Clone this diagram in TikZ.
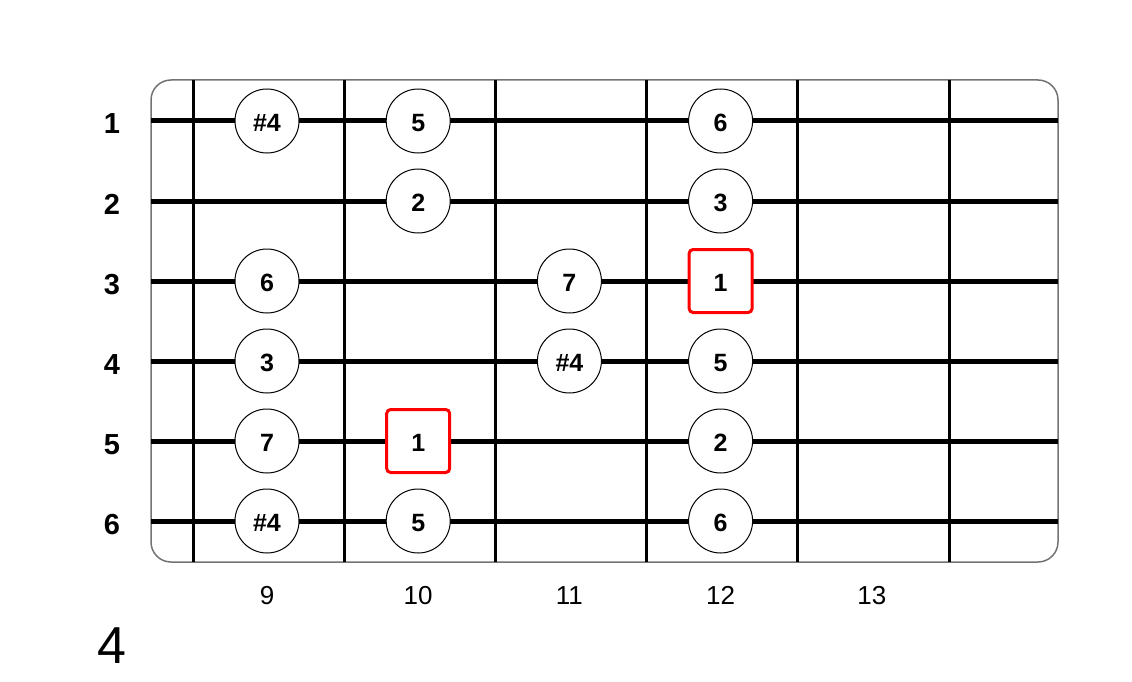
\documentclass[tikz,border=0pt]{standalone}
\usepackage{fontspec}
\setmainfont{Liberation Sans}
\usetikzlibrary{positioning}

\begin{document}
\begin{tikzpicture}[x=1pt, y=-1pt,
	every note/.style={circle, draw, line width=1pt, fill=white, minimum size=64pt, inner sep=0pt, text height=21pt, text depth=0pt, font=\fontsize{25}{25}\selectfont\bfseries},
	root note/.style={rectangle, draw=red, line width=3pt, rounded corners=4pt, fill=white, minimum size=63pt, inner sep=0pt, text height=21pt, text depth=0pt, font=\fontsize{25}{25}\selectfont\bfseries},
	string/.style={line width=5pt},
	fret/.style={line width=3pt},
	board/.style={draw=black!55, line width=1.5pt, rounded corners=20pt}]
		
		\useasboundingbox (0,0) rectangle (1132,682);
		
		\node [board, minimum width=907pt, minimum height=482pt, inner sep=0pt] (board) at (604.5,321) {};
		
		\foreach \k in {0,...,5}
		{
		\coordinate (fret-\k-top) at ({193+151.2*\k},80);
		\coordinate (fret-\k-bottom) at ({193+151.2*\k},562);
		\draw [fret] (fret-\k-top) -- (fret-\k-bottom);
		}
		
		\foreach \s in {1,...,6}
		{
		\coordinate (string-\s-left) at (151,{41+80*\s});
		\coordinate (string-\s-right) at (1058,{41+80*\s});
		\draw [string] (string-\s-left) -- (string-\s-right);
		\node [anchor=base, font=\fontsize{29}{29}\selectfont\bfseries] (name-\s) at (112,{54+80*\s}) {\s};
		}
		
		\foreach \f [count=\i from 0] in {9,...,13}
		\node [anchor=base, font=\fontsize{26}{26}\selectfont] (number-\f) at ({267+151.2*\i},604) {\f};
		
		\foreach \s/\f/\l in {1/9/\#4, 1/10/5, 1/12/6, 2/10/2, 2/12/3, 3/9/6, 3/11/7, 4/9/3, 4/11/\#4, 4/12/5, 5/9/7, 5/12/2, 6/9/\#4, 6/10/5, 6/12/6}
		\node [every note] (note-\s-\f) at ({267+151.2*(\f-9)},{41+80*\s}) {\l};
		
		\foreach \s/\f in {3/12, 5/10}
		\node [root note] (note-\s-\f) at ({267+151.2*(\f-9)},{41+80*\s}) {1};
		
		\node [anchor=base, font=\fontsize{52}{52}\selectfont] (position) at (112,663) {4};

		\end{tikzpicture}
\end{document}
